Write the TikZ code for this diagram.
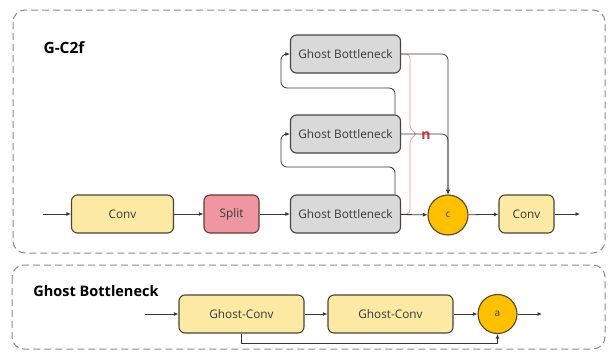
\documentclass[tikz,border=0pt]{standalone}
\usepackage{fontspec}
\setmainfont{Open Sans}
\usetikzlibrary{arrows.meta,calc}
\definecolor{convfill}{HTML}{FCE9A4}
\definecolor{convdraw}{HTML}{4A4436}
\definecolor{splitfill}{HTML}{EE96A1}
\definecolor{gbfill}{HTML}{D9D9D9}
\definecolor{gbdraw}{HTML}{454545}
\definecolor{circfill}{HTML}{FFC000}
\definecolor{circdraw}{HTML}{5A4614}
\definecolor{txt}{HTML}{383838}
\definecolor{lin}{HTML}{383838}
\definecolor{panel}{HTML}{8C8C8C}
\definecolor{bracered}{HTML}{EE9AA0}
\definecolor{nred}{HTML}{D8323F}
\begin{document}
\begin{tikzpicture}[x=1pt,y=-1pt,
  box/.style={draw=convdraw,line width=1.1pt,rounded corners=6pt,minimum height=38pt,inner sep=0pt,font=\fontsize{11.8}{14}\selectfont,text=txt},
  convbox/.style={box,fill=convfill},
  splitbox/.style={box,fill=splitfill,draw=convdraw!85!red},
  gbbox/.style={box,fill=gbfill,draw=gbdraw,minimum width=110pt,minimum height=38pt},
  circ/.style={circle,draw=circdraw,line width=1.1pt,fill=circfill,inner sep=0pt,text=txt,font=\fontsize{10}{12}\selectfont},
  conn/.style={draw=lin,line width=0.8pt,-{Latex[length=4.5pt,width=4pt]}},
  panelbox/.style={draw=panel,line width=1pt,dash pattern=on 7pt off 4pt,rounded corners=12pt},
  title/.style={font=\bfseries,text=black}
]
\useasboundingbox (0,0) rectangle (608,351);
% panels
\draw[panelbox] (13,10) rectangle (605,253);
\draw[panelbox] (12,265) rectangle (605,349);
\node[title,font=\fontsize{15.5}{18}\selectfont\bfseries] (t1) at (64,48) {G-C2f};
\node[title,font=\fontsize{14.5}{17}\selectfont\bfseries] (t2) at (96,291) {Ghost Bottleneck};

% top panel nodes
\coordinate (in1) at (43,214);
\node[convbox,minimum width=102pt] (conv1) at (122.5,214) {Conv};
\node[splitbox,minimum width=55pt] (split) at (231.5,214) {Split};
\node[gbbox] (gb1) at (345.5,214) {Ghost Bottleneck};
\node[gbbox] (gb2) at (345.5,134) {Ghost Bottleneck};
\node[gbbox] (gb3) at (345.5,54) {Ghost Bottleneck};
\node[circ,minimum size=40pt] (c) at (448,215) {c};
\node[convbox,minimum width=55pt] (conv2) at (526.5,214) {Conv};
\coordinate (out1) at (580,214);

% red brace
\draw[bracered,line width=0.8pt,rounded corners=4pt]
  (gb3.east) -- (410,54) -- (410,129) -- (417,134) -- (410,139) -- (410,214) -- (gb1.east);
\node[text=nred,font=\fontsize{14}{16}\selectfont\bfseries] (n) at (426,136) {n};

% connectors
\draw[conn] (in1) -- (conv1);
\draw[conn] (conv1) -- (split);
\draw[conn] (split) -- (gb1);
\draw[conn] (gb1) -- (c);
\draw[conn] (c) -- (conv2);
\draw[conn] (conv2) -- (out1);
\draw[conn,rounded corners=6pt] (gb3.east) -- (448,54) -- (c.north);
\draw[conn,rounded corners=6pt] (gb2.east) -- (448,134) -- (c.north);
\coordinate (fb1) at (281,167);
\coordinate (fb2) at (281,88);
\draw[conn,rounded corners=6pt] ([xshift=-6pt]gb1.north east) |- (fb1) |- (gb2.west);
\draw[conn,rounded corners=6pt] ([xshift=-6pt]gb2.north east) |- (fb2) |- (gb3.west);

% lower panel
\coordinate (in2) at (145,314);
\node[convbox,minimum width=125pt] (gc1) at (241.5,314) {Ghost-Conv};
\node[convbox,minimum width=125pt] (gc2) at (390.5,314) {Ghost-Conv};
\node[circ,minimum size=39pt] (a) at (497.5,314) {a};
\coordinate (out2) at (542,314);
\draw[conn] (in2) -- (gc1);
\draw[conn] (gc1) -- (gc2);
\draw[conn] (gc2) -- (a);
\draw[conn] (a) -- (out2);
\draw[conn] (gc1.south) -- ++(0,10) -| (a.south);
\end{tikzpicture}
\end{document}
